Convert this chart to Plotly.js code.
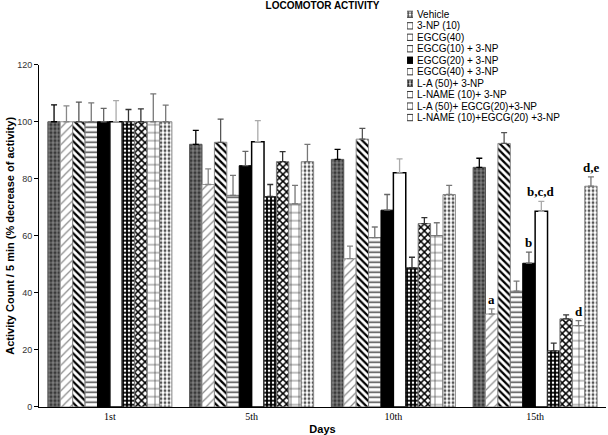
<!DOCTYPE html>
<html>
<head>
<meta charset="utf-8">
<script src="https://cdn.plot.ly/plotly-3.0.1.min.js"></script>
<style>html,body{margin:0;padding:0;background:#fff;}#chart{width:608px;height:435px;}</style>
</head>
<body>
<div id="chart"></div>
<script>
// ---- data ----
const days = ["1st", "5th", "10th", "15th"];
const seriesNames = [
  "Vehicle", "3-NP (10)", "EGCG(40)", "EGCG(10) + 3-NP", "EGCG(20) + 3-NP",
  "EGCG(40) + 3-NP", "L-A (50)+ 3-NP", "L-NAME (10)+ 3-NP",
  "L-A (50)+ EGCG(20)+3-NP", "L-NAME (10)+EGCG(20) +3-NP"
];
const vehicle      = [100, 92.1, 86.8, 84.0];
const vehicleErr   = [5.9, 4.9, 3.5, 3.2];
const np3          = [100, 78.0, 52.0, 32.6];
const np3Err       = [5.6, 5.5, 4.4, 1.8];
const egcg40       = [100, 92.8, 93.9, 92.4];
const egcg40Err    = [6.9, 8.1, 3.8, 3.8];
const egcg10np     = [100, 74.2, 59.4, 40.6];
const egcg10npErr  = [6.6, 7.0, 3.7, 3.5];
const egcg20np     = [100, 84.6, 69.0, 50.4];
const egcg20npErr  = [4.7, 5.0, 5.5, 3.9];
const egcg40np     = [100, 93.0, 82.1, 68.6];
const egcg40npErr  = [7.4, 7.4, 4.9, 3.5];
const la50np       = [100, 73.8, 48.8, 19.7];
const la50npErr    = [4.3, 4.2, 3.7, 2.7];
const lname10np    = [100, 86.0, 64.3, 30.9];
const lname10npErr = [4.5, 3.5, 2.1, 1.4];
const laEgcgNp     = [100, 71.2, 60.1, 28.5];
const laEgcgNpErr  = [9.8, 6.5, 4.5, 1.8];
const lnEgcgNp     = [100, 86.0, 74.5, 77.4];
const lnEgcgNpErr  = [5.8, 6.1, 3.2, 3.3];
// significance letters: [series index, day index, label]
const sigLabels = [[1, 3, "a"], [4, 3, "b"], [5, 3, "b,c,d"], [8, 3, "d"], [9, 3, "d,e"]];

const values = [vehicle, np3, egcg40, egcg10np, egcg20np, egcg40np, la50np, lname10np, laEgcgNp, lnEgcgNp];
const errors = [vehicleErr, np3Err, egcg40Err, egcg10npErr, egcg20npErr, egcg40npErr, la50npErr, lname10npErr, laEgcgNpErr, lnEgcgNpErr];

// ---- styles ----
const styles = [
  {bg: "#3a3a3a", shape: "+", fg: "#b0b0b0", size: 4, sol: 0.3, line: "#555", lw: 1, ec: "#000"},
  {bg: "#ffffff", shape: "/", fg: "#8a8a8a", size: 6, sol: 0.2, line: "#999", lw: 1, ec: "#888"},
  {bg: "#ffffff", shape: "\\", fg: "#000000", size: 5, sol: 0.45, line: "#888", lw: 1, ec: "#555"},
  {bg: "#ffffff", shape: "-", fg: "#444444", size: 5, sol: 0.3, line: "#777", lw: 1, ec: "#777"},
  {bg: "#000000", shape: "", fg: "#000000", size: 5, sol: 0.3, line: "#000", lw: 1, ec: "#666"},
  {bg: "#ffffff", shape: "", fg: "#000000", size: 5, sol: 0.3, line: "#000", lw: 1.5, ec: "#aaa"},
  {bg: "#000000", shape: ".", fg: "#ffffff", size: 4, sol: 0.3, line: "#333", lw: 1, ec: "#333"},
  {bg: "#ffffff", shape: "x", fg: "#000000", size: 5, sol: 0.5, line: "#777", lw: 1, ec: "#333"},
  {bg: "#ffffff", shape: "+", fg: "#333333", size: 8, sol: 0.15, line: "#777", lw: 1, ec: "#777"},
  {bg: "#ffffff", shape: ".", fg: "#555555", size: 4, sol: 0.4, line: "#888", lw: 1, ec: "#777"}
];

const traces = values.map((v, i) => {
  const s = styles[i];
  return {
    type: "bar", name: seriesNames[i], x: days, y: v,
    xaxis: "x", yaxis: "y", showlegend: false,
    marker: {
      color: s.bg,
      line: {color: s.line, width: s.lw},
      pattern: {shape: s.shape, fgcolor: s.fg, bgcolor: s.bg, size: s.size, solidity: s.sol}
    },
    error_y: {type: "data", array: errors[i], arrayminus: errors[i].map(() => 0), symmetric: false,
              color: s.ec, thickness: 1.3, width: 3}
  };
});

// legend swatches drawn as a tiny bar subplot
traces.push({
  type: "bar", orientation: "h", x: seriesNames.map(() => 1), y: seriesNames,
  xaxis: "x2", yaxis: "y2", showlegend: false, hoverinfo: "skip", width: 0.55,
  marker: {
    color: styles.map(s => s.bg),
    line: {color: styles.map(s => (s.bg === "#ffffff" ? "#333" : s.line)), width: 1},
    pattern: {shape: styles.map(s => s.shape), fgcolor: styles.map(s => s.fg),
              bgcolor: styles.map(s => s.bg), size: 3, solidity: styles.map(s => Math.min(0.6, s.sol + 0.15))}
  }
});

const nS = seriesNames.length, bargap = 0.125, bw = (1 - bargap) / nS;
const annotations = sigLabels.map(([si, di, txt]) => ({
  x: di + (si - (nS - 1) / 2) * bw, y: values[si][di] + errors[si][di],
  xref: "x", yref: "y", text: txt, showarrow: false, yanchor: "bottom", yshift: 0,
  font: {family: "Liberation Serif", size: 13, color: "#000", weight: "bold"}
}));

const layout = {
  width: 608, height: 435,
  margin: {l: 39, r: 2, t: 5, b: 28},
  paper_bgcolor: "#fff", plot_bgcolor: "#fff",
  barmode: "group", bargap: bargap, bargroupgap: 0,
  title: {text: "LOCOMOTOR ACTIVITY", x: 0.5, xref: "paper", y: 0.987, yanchor: "middle",
          font: {family: "Liberation Sans", size: 10, color: "#000", weight: "bold"}},
  xaxis: {
    type: "category", range: [-0.5, 3.5], domain: [0, 1], showline: true, linecolor: "#000", linewidth: 1,
    ticks: "", showgrid: false, zeroline: false,
    tickfont: {family: "Liberation Serif", size: 10, color: "#000"},
    title: {text: "Days", standoff: 4, font: {family: "Liberation Sans", size: 11, color: "#000", weight: "bold"}}
  },
  yaxis: {
    domain: [0, 0.8515], range: [0, 120], dtick: 20, showline: true, linecolor: "#000", linewidth: 1,
    ticks: "outside", ticklen: 4, tickcolor: "#000", showgrid: false, zeroline: false,
    tickfont: {family: "Liberation Sans", size: 9, color: "#333"},
    title: {text: "Activity Count / 5 min (% decrease of activity)", standoff: 0,
            font: {family: "Liberation Sans", size: 11, color: "#000", weight: "bold"}}
  },
  xaxis2: {domain: [0.6491, 0.6596], range: [0, 1], anchor: "y2", visible: false, fixedrange: true},
  yaxis2: {
    domain: [0.7057, 0.991], anchor: "x2", type: "category", range: [9.5, -0.5],
    tickmode: "array", tickvals: seriesNames, ticktext: seriesNames, ticklabelstandoff: 3,
    side: "right", showline: false, showgrid: false, zeroline: false, ticks: "", ticklen: 0,
    tickfont: {family: "Liberation Sans", size: 10, color: "#000"}, fixedrange: true
  },
  annotations: annotations
};

Plotly.newPlot("chart", traces, layout, {staticPlot: true, displayModeBar: false});
</script>
</body>
</html>
